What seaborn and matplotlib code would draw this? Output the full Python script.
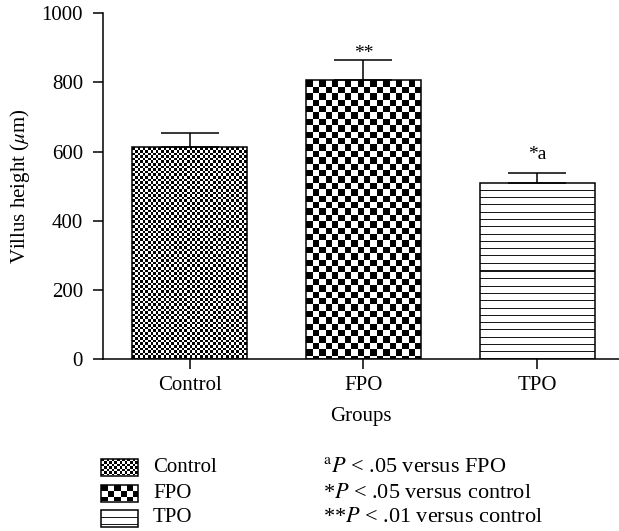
import numpy as np
import pandas as pd
import matplotlib
matplotlib.use("Agg")
import matplotlib.pyplot as plt
from matplotlib.patches import Rectangle
import seaborn as sns

# values
groups = ["Control", "FPO", "TPO"]
villus_height = [612, 807, 510]
villus_sem = [42, 58, 29]
marks = ["", "**", "*a"]
mark_offsets = [0, 7, 38]
notes = [r"$^{\mathrm{a}}P$ < .05 versus FPO",
         r"*$P$ < .05 versus control",
         r"**$P$ < .01 versus control"]

# fill texture per group: (kind, size in px)
textures = {"Control": ("check", 2.6), "FPO": ("check", 6.4), "TPO": ("lines", 7.3)}

sns.set_style("ticks", {"axes.edgecolor": "black", "xtick.color": "black",
                        "ytick.color": "black", "text.color": "black",
                        "axes.labelcolor": "black"})
plt.rcParams["font.family"] = ["Liberation Serif", "DejaVu Serif"]
plt.rcParams["mathtext.fontset"] = "stix"
FS = 15


def texture(kind, size, w, h):
    jj, ii = np.meshgrid(np.arange(w), np.arange(h))
    if kind == "check":
        return ((np.floor(jj / size) + np.floor(ii / size)) % 2).astype(float)
    arr = np.ones((h, w))
    arr[np.floor(ii % size) == 0] = 0.1
    return arr


df = pd.DataFrame({"group": groups, "height": villus_height, "sem": villus_sem})

fig = plt.figure(figsize=(6.19, 5.31), dpi=100)
ax = fig.add_axes([0.166, 0.324, 0.834, 0.651])

sns.barplot(data=df, x="group", y="height", ax=ax, color="white",
            edgecolor="black", linewidth=1.1, width=0.66, errorbar=None)
ax.set_xlim(-0.5, 2.47)
ax.set_ylim(0, 1000)

# texture fill inside each bar, clipped to the bar
for bar, g in zip(ax.patches, groups):
    bar.set_facecolor("none")
    bar.set_zorder(2)
    bb = bar.get_bbox()
    (px0, py0), (px1, py1) = ax.transData.transform([[bb.x0, bb.y0], [bb.x1, bb.y1]])
    kind, size = textures[g]
    arr = texture(kind, size, int(round(px1 - px0)), int(round(py1 - py0)))
    im = ax.imshow(arr, extent=[bb.x0, bb.x1, bb.y0, bb.y1], origin="upper",
                   cmap="gray", vmin=0, vmax=1, interpolation="nearest",
                   aspect="auto", zorder=1.5)
    im.set_clip_path(bar)

ax.set_xlim(-0.5, 2.47)
ax.set_ylim(0, 1000)

ax.errorbar(np.arange(len(groups)), df["height"],
            yerr=[np.zeros(len(groups)), df["sem"]], fmt="none",
            ecolor="black", elinewidth=1.1, capsize=20.7, capthick=1.1, zorder=3)

for i, (m, off) in enumerate(zip(marks, mark_offsets)):
    if m:
        ax.text(i, df["height"][i] + df["sem"][i] + off, m, ha="center",
                va="baseline", fontsize=FS - 1)

ax.set_yticks(range(0, 1001, 200))
ax.tick_params(axis="both", length=7.2, width=1.1, labelsize=FS)
ax.tick_params(axis="y", pad=7)
ax.tick_params(axis="x", pad=5)
for s in ["left", "bottom"]:
    ax.spines[s].set_linewidth(1.1)
sns.despine(ax=ax)
ax.set_xlabel("Groups", fontsize=FS, labelpad=9)
ax.set_ylabel(r"Villus height ($\mu$m)", fontsize=FS, labelpad=7)

# legend and significance notes below the chart, in pixel coordinates
lax = fig.add_axes([0, 0, 1, 1])
lax.set_xlim(0, 619)
lax.set_ylim(531, 0)
lax.axis("off")
row_y = [467, 493, 518]
sw, sh = 37, 17
for g, y in zip(groups, row_y):
    kind, size = textures[g]
    rect = Rectangle((101, y - sh / 2), sw, sh, facecolor="none",
                     edgecolor="black", linewidth=1.1, zorder=2)
    lax.add_patch(rect)
    im = lax.imshow(texture(kind, size, sw, sh),
                    extent=[101, 101 + sw, y + sh / 2, y - sh / 2],
                    origin="upper", cmap="gray", vmin=0, vmax=1,
                    interpolation="nearest", aspect="auto", zorder=1)
    im.set_clip_path(rect)
    lax.text(153, y, g, fontsize=FS, va="center", ha="left")
for note, y in zip(notes, row_y):
    lax.text(323, y, note, fontsize=FS + 1, va="center", ha="left")
lax.set_xlim(0, 619)
lax.set_ylim(531, 0)

fig.savefig("out.png", dpi=100)
